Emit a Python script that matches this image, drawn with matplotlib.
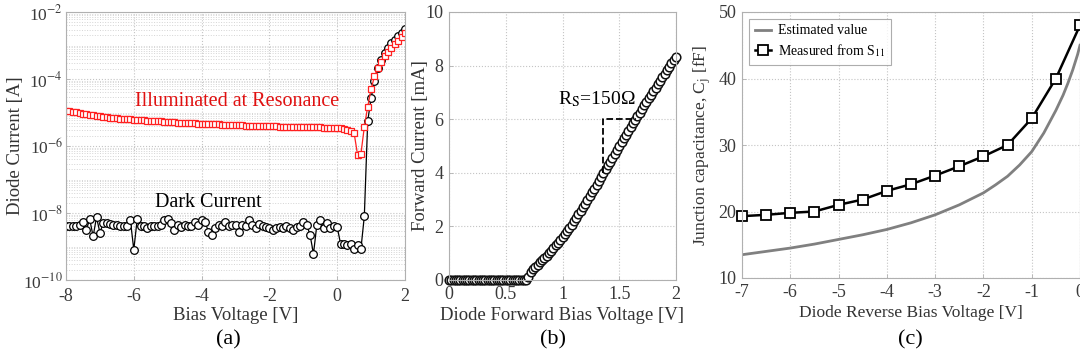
import numpy as np
import matplotlib
matplotlib.use("Agg")
import matplotlib.pyplot as plt
from matplotlib.ticker import LogLocator, FixedLocator, NullFormatter, FixedFormatter

plt.rcParams['font.family'] = ['Liberation Serif', 'DejaVu Serif']
plt.rcParams['mathtext.fontset'] = 'stix'
plt.rcParams['axes.unicode_minus'] = False

# ---------------- Panel (a) data ----------------
bias_v = [round(-8 + 0.1 * i, 1) for i in range(101)]
dark_current = [
    4.0e-9, 4.0e-9, 4.0e-9, 4.2e-9, 4.5e-9, 5.5e-9, 3.2e-9, 6.5e-9, 2.0e-9, 7.5e-9,
    2.6e-9, 5.0e-9, 5.0e-9, 4.8e-9, 4.5e-9, 4.5e-9, 4.2e-9, 4.2e-9, 4.0e-9, 6.0e-9,
    8.0e-10, 6.5e-9, 4.0e-9, 4.0e-9, 3.5e-9, 4.0e-9, 4.2e-9, 4.0e-9, 4.5e-9, 6.0e-9,
    6.5e-9, 5.0e-9, 3.2e-9, 4.5e-9, 3.8e-9, 4.5e-9, 4.0e-9, 4.2e-9, 5.5e-9, 4.5e-9,
    6.0e-9, 5.5e-9, 2.8e-9, 2.2e-9, 3.5e-9, 4.5e-9, 4.0e-9, 5.5e-9, 4.2e-9, 4.5e-9,
    4.5e-9, 2.8e-9, 4.5e-9, 4.2e-9, 6.0e-9, 4.5e-9, 3.5e-9, 4.8e-9, 4.2e-9, 3.8e-9,
    3.6e-9, 3.2e-9, 3.6e-9, 3.8e-9, 3.6e-9, 4.2e-9, 3.5e-9, 3.2e-9, 3.8e-9, 4.0e-9,
    5.5e-9, 4.5e-9, 2.2e-9, 6.0e-10, 4.5e-9, 6.0e-9, 3.5e-9, 5.0e-9, 3.5e-9, 4.0e-9,
    3.8e-9, 1.2e-9, 1.2e-9, 1.1e-9, 1.2e-9, 8.5e-10, 1.1e-9, 8.5e-10, 8.0e-9, 5.5e-6,
    2.7e-5, 9.0e-5, 2.2e-4, 3.8e-4, 5.8e-4, 8.5e-4, 1.15e-3, 1.5e-3, 1.9e-3, 2.4e-3,
    3.2e-3,
]
illum_current = [
    1.10e-5, 1.08e-5, 1.06e-5, 1.03e-5, 9.8e-6, 9.2e-6, 8.8e-6, 8.5e-6, 8.2e-6, 7.9e-6,
    7.6e-6, 7.4e-6, 7.2e-6, 7.0e-6, 6.9e-6, 6.7e-6, 6.6e-6, 6.5e-6, 6.3e-6, 6.2e-6,
    6.1e-6, 6.0e-6, 5.9e-6, 5.8e-6, 5.7e-6, 5.6e-6, 5.5e-6, 5.45e-6, 5.4e-6, 5.3e-6,
    5.2e-6, 5.15e-6, 5.1e-6, 5.0e-6, 4.95e-6, 4.9e-6, 4.85e-6, 4.8e-6, 4.7e-6, 4.65e-6,
    4.6e-6, 4.55e-6, 4.5e-6, 4.5e-6, 4.45e-6, 4.4e-6, 4.35e-6, 4.3e-6, 4.25e-6, 4.2e-6,
    4.2e-6, 4.15e-6, 4.1e-6, 4.05e-6, 4.0e-6, 4.0e-6, 3.95e-6, 3.95e-6, 3.9e-6, 3.9e-6,
    3.9e-6, 3.85e-6, 3.85e-6, 3.8e-6, 3.8e-6, 3.8e-6, 3.75e-6, 3.75e-6, 3.7e-6, 3.7e-6,
    3.7e-6, 3.65e-6, 3.65e-6, 3.6e-6, 3.6e-6, 3.6e-6, 3.55e-6, 3.55e-6, 3.5e-6, 3.5e-6,
    3.5e-6, 3.4e-6, 3.3e-6, 3.1e-6, 2.9e-6, 2.4e-6, 5.5e-7, 5.8e-7, 3.7e-6, 1.5e-5,
    5.0e-5, 1.2e-4, 2.1e-4, 3.3e-4, 4.8e-4, 6.5e-4, 8.5e-4, 1.1e-3, 1.4e-3, 1.8e-3,
    2.3e-3,
]
log_ticks = [1e-10, 1e-8, 1e-6, 1e-4, 1e-2]
log_tick_labels = [r'10$^{\mathrm{-10}}$', r'10$^{\mathrm{-8}}$', r'10$^{\mathrm{-6}}$',
                   r'10$^{\mathrm{-4}}$', r'10$^{\mathrm{-2}}$']

# ---------------- Panel (b) data ----------------
fwd_v = [round(0.02 * i, 2) for i in range(101)]
fwd_current_ma = [0.0] * 35 + [
    0.10, 0.28, 0.40, 0.48, 0.56, 0.66, 0.74, 0.82, 0.90, 1.00,
    1.10, 1.19, 1.29, 1.39, 1.49, 1.60, 1.71, 1.83, 1.95, 2.07,
    2.20, 2.33, 2.46, 2.59, 2.72, 2.85, 2.99, 3.13, 3.27, 3.41,
    3.55, 3.70, 3.85, 4.00, 4.14, 4.28, 4.42, 4.57, 4.71, 4.85,
    5.00, 5.14, 5.28, 5.42, 5.56, 5.70, 5.84, 5.98, 6.12, 6.25,
    6.38, 6.52, 6.65, 6.79, 6.92, 7.05, 7.18, 7.31, 7.44, 7.57,
    7.70, 7.83, 7.96, 8.08, 8.21, 8.33,
]
rs_x = [1.36, 1.36, 1.65]
rs_y = [4.0, 6.0, 6.0]

# ---------------- Panel (c) data ----------------
rev_v_meas = [-7, -6.5, -6, -5.5, -5, -4.5, -4, -3.5, -3, -2.5, -2, -1.5, -1, -0.5, 0]
cj_meas = [19.3, 19.5, 19.8, 20.0, 21.0, 21.8, 23.1, 24.1, 25.4, 26.8, 28.3, 30.0, 34.0, 40.0, 48.0]
rev_v_est = [-7, -6.5, -6, -5.5, -5, -4.5, -4, -3.5, -3, -2.5, -2, -1.75, -1.5, -1.25,
             -1, -0.75, -0.5, -0.35, -0.25, -0.15, -0.05, 0]
cj_est = [13.5, 14.0, 14.5, 15.1, 15.8, 16.5, 17.3, 18.3, 19.5, 21.0, 22.8, 24.0, 25.3, 27.0,
          29.0, 31.8, 35.2, 37.5, 39.3, 41.3, 43.6, 45.0]

W, H = 1080, 360
fig = plt.figure(figsize=(W / 100, H / 100), dpi=100)

tick_col = '#3a3a3a'
spine_col = '#b0b0b0'
grid_kw = dict(color='#c4c4c4', linestyle=':', linewidth=0.8)


def style(ax, size=13, pad=4):
    for s in ax.spines.values():
        s.set_color(spine_col)
        s.set_linewidth(0.8)
    ax.tick_params(direction='in', colors=spine_col, labelcolor=tick_col,
                   labelsize=size, length=3, width=0.6, pad=pad)
    ax.set_axisbelow(True)


# (a)
axa = fig.add_axes([66 / W, 1 - 280 / H, 339 / W, 268 / H])
style(axa)
axa.set_yscale('log')
axa.set_xlim(-8, 2)
axa.set_ylim(1e-10, 1e-2)
axa.set_xticks([-8, -6, -4, -2, 0, 2])
axa.yaxis.set_major_locator(FixedLocator(log_ticks))
axa.yaxis.set_major_formatter(FixedFormatter(log_tick_labels))
axa.yaxis.set_minor_locator(LogLocator(base=10, subs=np.arange(1, 10), numticks=20))
axa.yaxis.set_minor_formatter(NullFormatter())
axa.tick_params(axis='y', which='minor', length=0)
axa.tick_params(axis='y', which='major', labelsize=12.5, pad=2)
axa.tick_params(axis='x', which='major', pad=6)
axa.grid(True, which='major', **grid_kw)
axa.grid(True, which='minor', axis='y', color='#d4d4d4', linestyle=':', linewidth=0.7)
axa.plot(bias_v, dark_current, '-o', color='black', lw=0.9, ms=5.5,
         mfc='white', mec='black', mew=0.9)
axa.plot(bias_v, illum_current, '-s', color='#ff2020', lw=0.9, ms=5,
         mfc='white', mec='#ff2020', mew=0.9)
axa.text(-2.96, 2.2e-5, 'Illuminated at Resonance', color='#e01010', fontsize=14.5,
         ha='center', va='center')
axa.text(-3.8, 2.1e-8, 'Dark Current', color='black', fontsize=14.5,
         ha='center', va='center')
axa.set_xlabel('Bias Voltage [V]', fontsize=13.5, color='#333333', labelpad=1)
axa.set_ylabel('Diode Current [A]', fontsize=13.5, color='#333333', va='center')
axa.yaxis.set_label_coords(-0.150, 0.5)
fig.text(228 / W, 1 - 340 / H, '(a)', fontsize=16, ha='center', va='center')

# (b)
axb = fig.add_axes([449 / W, 1 - 280 / H, 227 / W, 268 / H])
style(axb)
axb.set_xlim(0, 2)
axb.set_ylim(0, 10)
axb.set_xticks([0, 0.5, 1, 1.5, 2])
axb.set_xticklabels(['0', '0.5', '1', '1.5', '2'])
axb.set_yticks([0, 2, 4, 6, 8, 10])
axb.grid(True, **grid_kw)
axb.plot(fwd_v, fwd_current_ma, 'o', color='black', ms=6.2, mfc='white',
         mec='#111111', mew=1.1, clip_on=False)
axb.plot(rs_x, rs_y, '--', color='black', lw=1.3)
axb.text(1.30, 6.75, r'R$_\mathrm{S}$=150Ω', fontsize=14, ha='center', va='center')
axb.set_xlabel('Diode Forward Bias Voltage [V]', fontsize=13.5, color='#333333', labelpad=3)
axb.set_ylabel('Forward Current [mA]', fontsize=13.5, color='#333333', va='center')
axb.yaxis.set_label_coords(-0.125, 0.5)
fig.text(553 / W, 1 - 340 / H, '(b)', fontsize=16, ha='center', va='center')

# (c)
axc = fig.add_axes([742 / W, 1 - 278 / H, 338 / W, 266 / H])
style(axc, size=13)
axc.set_xlim(-7, 0)
axc.set_ylim(10, 50)
axc.set_xticks(range(-7, 1))
axc.set_yticks([10, 20, 30, 40, 50])
axc.grid(True, **grid_kw)
axc.plot(rev_v_est, cj_est, '-', color='#808080', lw=2.0, label='Estimated value')
axc.plot(rev_v_meas, cj_meas, '-s', color='black', lw=1.8, ms=7.5, mfc='white',
         mec='black', mew=1.3, label=r'Measured from S$_{11}$', clip_on=False)
leg = axc.legend(loc='upper left', fontsize=10, frameon=True, fancybox=False,
                 edgecolor='#999999', borderpad=0.4, handlelength=1.2,
                 handletextpad=0.5, labelspacing=0.35, borderaxespad=0.5)
leg.get_frame().set_linewidth(0.8)
axc.set_xlabel('Diode Reverse Bias Voltage [V]', fontsize=12.5, color='#333333', labelpad=3)
axc.set_ylabel(r'Junction capacitance, C$_\mathrm{j}$ [fF]', fontsize=12.5, color='#333333',
               va='center')
axc.yaxis.set_label_coords(-0.118, 0.5)
fig.text(910 / W, 1 - 340 / H, '(c)', fontsize=16, ha='center', va='center')

fig.savefig('out.png', dpi=100)
